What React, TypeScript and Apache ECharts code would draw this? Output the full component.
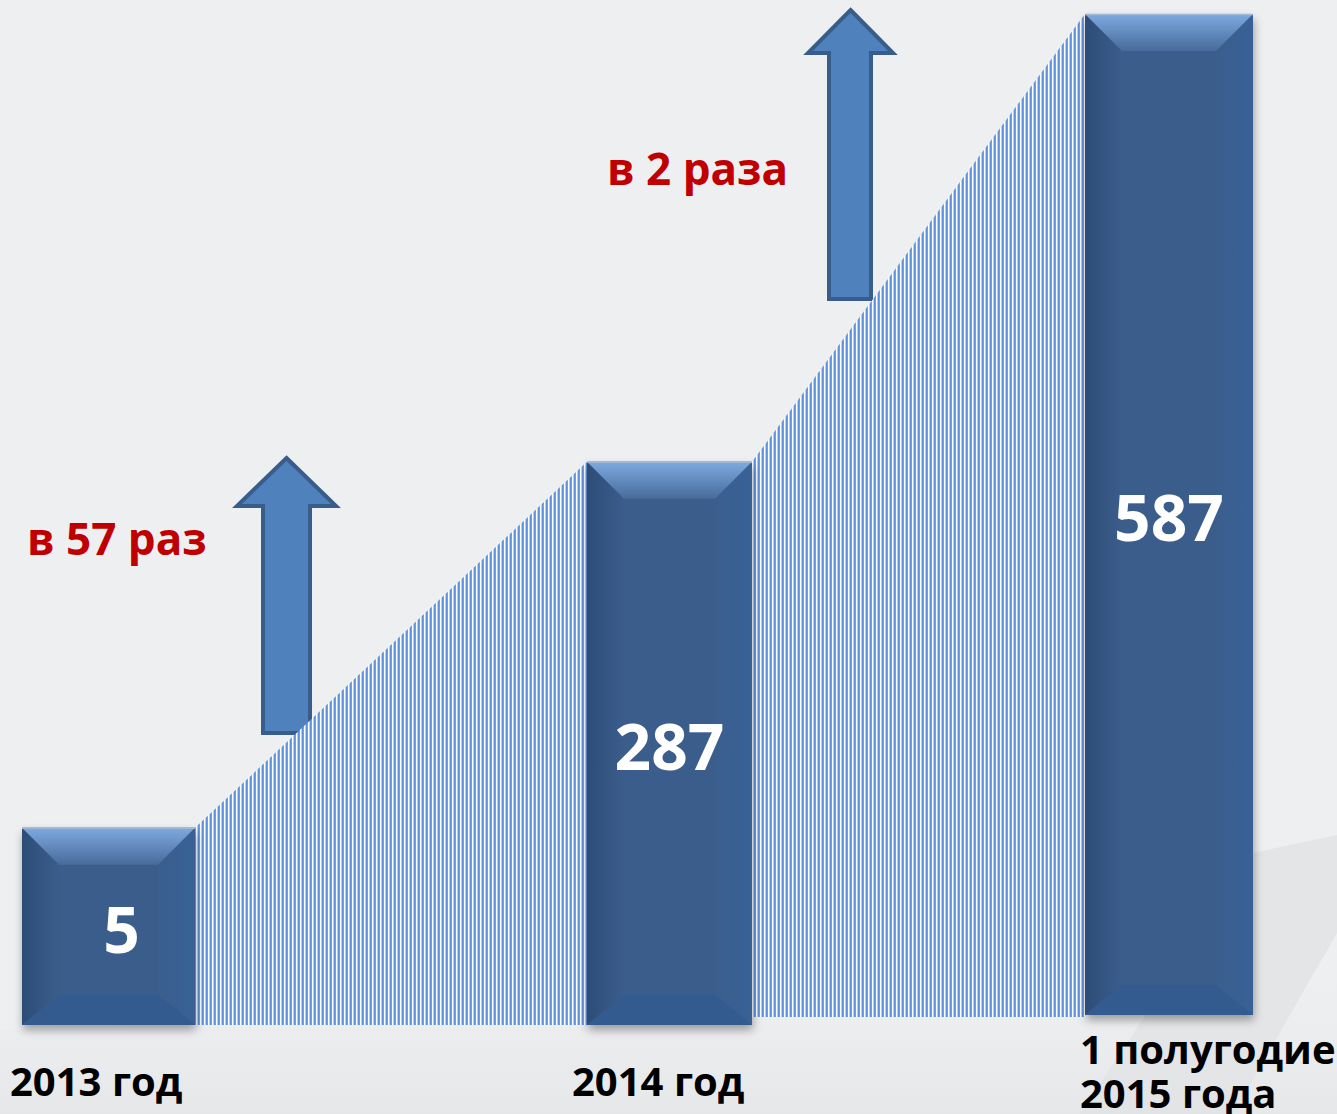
import React, { useEffect, useRef } from "react";
import * as echarts from "echarts";

// ---- data ----
const categories = ["2013 год", "2014 год", "1 полугодие\n2015 года"];
const values = [5, 287, 587];
// visual bar heights as drawn in the picture (axis units 0..100)
const barVisualTops = [19.5, 55.7, 100];
const barVisualBases = [0, 0, 1];
const growthLabels = ["в 57 раз", "в 2 раза"];
const hatchBases = [0, 0.8];

// ---- layout (x axis units = px of the canvas width) ----
const BAR_SPANS = [
  [22, 195],
  [587, 752],
  [1085, 1253],
];
const VALUE_LABEL_DX = [13, 0, 0];
const CAT_LABEL_POS = [
  [10, 1080],
  [572, 1080],
  [1080, 1048],
];
const GROWTH_LABEL_POS = [
  [27, 538],
  [607, 168],
];
const ARROWS = [
  { sx0: 263, sx1: 310, hx0: 237, hx1: 336, top: 458, base: 506, bottom: 733 },
  { sx0: 829, sx1: 871, hx0: 808, hx1: 893, top: 10, base: 53, bottom: 299 },
];

const FONT = '"Open Sans", "Noto Sans", sans-serif';

function makeStripeCanvas(): HTMLCanvasElement {
  const c = document.createElement("canvas");
  c.width = 4;
  c.height = 4;
  const ctx = c.getContext("2d")!;
  const cols = ["#ffffff", "#b6d0f2", "#5f92dc", "#72a1e2"];
  cols.forEach((col, i) => {
    ctx.fillStyle = col;
    ctx.fillRect(i, 0, 1, 4);
  });
  return c;
}

export default function App() {
  const ref = useRef<HTMLDivElement>(null);

  useEffect(() => {
    if (!ref.current) return;
    const chart = echarts.init(ref.current, undefined, { renderer: "svg" });

    const stripe = makeStripeCanvas();
    const pattern: any = {
      image: stripe,
      repeat: "repeat",
      imageWidth: 4,
      imageHeight: 4,
    };

    const barData = BAR_SPANS.map((s, i) => [
      s[0],
      s[1],
      barVisualBases[i],
      barVisualTops[i],
      values[i],
      VALUE_LABEL_DX[i],
    ]);

    const hatchData = [0, 1].map((i) => [
      BAR_SPANS[i][1],
      barVisualTops[i],
      BAR_SPANS[i + 1][0],
      barVisualTops[i + 1],
      hatchBases[i],
    ]);

    const lg = (x: number, y: number, x2: number, y2: number, c0: string, c1: string) =>
      new echarts.graphic.LinearGradient(x, y, x2, y2, [
        { offset: 0, color: c0 },
        { offset: 1, color: c1 },
      ]);

    const renderBar = (params: any, api: any) => {
      const x0 = api.value(0);
      const x1 = api.value(1);
      const y0 = api.value(2);
      const y1 = api.value(3);
      const v = api.value(4);
      const dx = api.value(5);
      const p0 = api.coord([x0, y0]);
      const p1 = api.coord([x1, y1]);
      const left = p0[0];
      const right = p1[0];
      const bottom = p0[1];
      const top = p1[1];
      const b = 37;
      const bb = 30;
      return {
        type: "group",
        children: [
          {
            type: "rect",
            shape: { x: left, y: top, width: right - left, height: bottom - top },
            style: {
              fill: "#3b5d8b",
              shadowBlur: 10,
              shadowOffsetY: 5,
              shadowOffsetX: 1,
              shadowColor: "rgba(0,0,0,0.35)",
            },
          },
          {
            type: "polygon",
            shape: {
              points: [
                [left, top],
                [left + b, top + b],
                [left + b, bottom - bb],
                [left, bottom],
              ],
            },
            style: { fill: lg(0, 0, 1, 0, "#2d4d78", "#3b5d8b") },
          },
          {
            type: "polygon",
            shape: {
              points: [
                [right, top],
                [right - b, top + b],
                [right - b, bottom - bb],
                [right, bottom],
              ],
            },
            style: { fill: lg(0, 0, 1, 0, "#3b5e8d", "#376197") },
          },
          {
            type: "polygon",
            shape: {
              points: [
                [left, top],
                [right, top],
                [right - b, top + b],
                [left + b, top + b],
              ],
            },
            style: { fill: lg(0, 0, 0, 1, "#7eaae0", "#476b9b") },
          },
          {
            type: "polygon",
            shape: {
              points: [
                [left, bottom],
                [right, bottom],
                [right - b, bottom - bb],
                [left + b, bottom - bb],
              ],
            },
            style: { fill: "#345b8f" },
          },
          {
            type: "line",
            shape: { x1: left, y1: top + 0.5, x2: right, y2: top + 0.5 },
            style: { stroke: "#9fb8d6", lineWidth: 1.5 },
          },
          {
            type: "text",
            style: {
              text: String(v),
              x: (left + right) / 2 + dx,
              y: (top + bottom) / 2 + 2,
              align: "center",
              verticalAlign: "middle",
              fill: "#ffffff",
              fontSize: 64,
              fontWeight: "bold",
              fontFamily: FONT,
            },
          },
        ],
      };
    };

    const renderHatch = (params: any, api: any) => {
      const xs = api.value(0);
      const ys = api.value(1);
      const xe = api.value(2);
      const ye = api.value(3);
      const base = api.value(4);
      return {
        type: "polygon",
        shape: {
          points: [
            api.coord([xs, base]),
            api.coord([xs, ys]),
            api.coord([xe, ye]),
            api.coord([xe, base]),
          ],
        },
        style: { fill: pattern },
      };
    };

    const graphics: any[] = [];
    // subtle background shapes bottom-right
    graphics.push({
      type: "polygon",
      z: -10,
      shape: {
        points: [
          [1253, 853],
          [1337, 835],
          [1337, 933],
          [1233, 1114],
          [1080, 1114],
        ],
      },
      style: { fill: "#e4e5e7" },
    });
    graphics.push({
      type: "polygon",
      z: -10,
      shape: {
        points: [
          [0, 1030],
          [1337, 980],
          [1337, 1114],
          [0, 1114],
        ],
      },
      style: { fill: lg(0, 0, 0, 1, "rgba(230,231,233,0)", "rgba(225,226,228,0.6)") },
    });

    ARROWS.forEach((a) => {
      const cx = (a.hx0 + a.hx1) / 2;
      graphics.push({
        type: "polygon",
        z: 1,
        shape: {
          points: [
            [cx, a.top],
            [a.hx1, a.base],
            [a.sx1, a.base],
            [a.sx1, a.bottom],
            [a.sx0, a.bottom],
            [a.sx0, a.base],
            [a.hx0, a.base],
          ],
        },
        style: { fill: "#4f81bd", stroke: "#385d8a", lineWidth: 4, lineJoin: "miter" },
      });
    });

    categories.forEach((c, i) => {
      const lines = c.split("\n");
      lines.forEach((ln, j) => {
        graphics.push({
          type: "text",
          z: 20,
          x: CAT_LABEL_POS[i][0],
          y: CAT_LABEL_POS[i][1] + j * 44,
          style: {
            text: ln,
            align: "left",
            verticalAlign: "middle",
            fill: "#000000",
            fontSize: 40,
            fontWeight: "bold",
            fontFamily: FONT,
          },
        });
      });
    });

    growthLabels.forEach((t, i) => {
      graphics.push({
        type: "text",
        z: 20,
        x: GROWTH_LABEL_POS[i][0],
        y: GROWTH_LABEL_POS[i][1],
        style: {
          text: t,
          align: "left",
          verticalAlign: "middle",
          fill: "#c00000",
          fontSize: 44,
          fontWeight: "bold",
          fontFamily: FONT,
        },
      });
    });

    chart.setOption({
      animation: false,
      backgroundColor: "#eeeff1",
      grid: { left: 0, right: 0, top: 14, bottom: 89, containLabel: false },
      xAxis: { type: "value", min: 0, max: 1337, show: false },
      yAxis: { type: "value", min: 0, max: 100, show: false },
      graphic: graphics,
      series: [
        {
          type: "custom",
          name: "hatch",
          z: 3,
          renderItem: renderHatch,
          data: hatchData,
          silent: true,
        },
        {
          type: "custom",
          name: "bars",
          z: 4,
          renderItem: renderBar,
          data: barData,
          silent: true,
        },
      ],
    });

    return () => chart.dispose();
  }, []);

  return (
    <div
      ref={ref}
      style={{ position: "absolute", left: 0, top: 0, width: 1337, height: 1114 }}
    />
  );
}
